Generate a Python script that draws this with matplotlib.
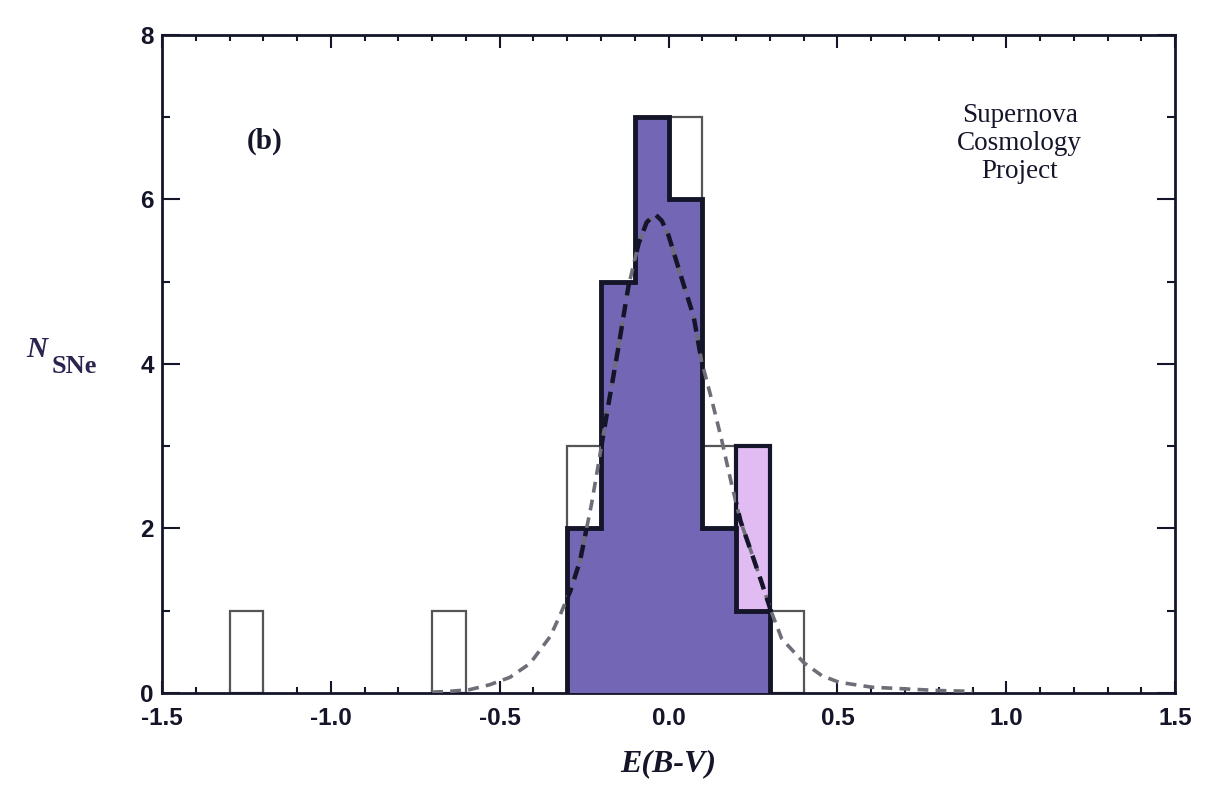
import numpy as np
import matplotlib
matplotlib.use("Agg")
import matplotlib.pyplot as plt
from matplotlib.ticker import MultipleLocator

# ---------------- data ----------------
bin_width = 0.1
open_left = [-1.3, -0.7, -0.3, -0.2, -0.1, 0.0, 0.1, 0.2, 0.3]
open_counts = [1, 1, 3, 5, 7, 7, 3, 3, 1]

fill_edges = [-0.3, -0.2, -0.1, 0.0, 0.1, 0.2, 0.3]
fill_counts = [2, 5, 7, 6, 2, 1]

light_left = [0.2]
light_counts = [3]

# dashed model curve
curve_x = [-0.70, -0.65, -0.59, -0.53, -0.47, -0.41, -0.35, -0.32, -0.29, -0.262,
           -0.228, -0.203, -0.178, -0.149, -0.119, -0.089, -0.065, -0.04, -0.02,
           0.0, 0.038, 0.074, 0.098, 0.128, 0.157, 0.187, 0.213, 0.246, 0.275,
           0.303, 0.335, 0.40, 0.454, 0.505, 0.603, 0.70, 0.80, 0.90]
curve_y = [0.01, 0.02, 0.04, 0.10, 0.19, 0.36, 0.69, 0.96, 1.25, 1.61,
           2.30, 2.90, 3.51, 4.19, 4.94, 5.46, 5.72, 5.82, 5.74,
           5.56, 5.05, 4.58, 4.03, 3.56, 3.08, 2.53, 2.09, 1.70, 1.35,
           1.00, 0.66, 0.37, 0.21, 0.13, 0.07, 0.05, 0.03, 0.02]

# ---------------- figure ----------------
fig = plt.figure(figsize=(12.09, 7.92), dpi=100)
ax = fig.add_axes([0.134, 0.125, 0.838, 0.831])

dark_fill = "#7366b5"
light_fill = "#e0bcf2"
ink = "#15152a"

# open histogram
ax.bar(open_left, open_counts, width=bin_width, align="edge",
       facecolor="white", edgecolor="#555555", linewidth=1.6, zorder=2)

# light purple bar
light = ax.bar(light_left, light_counts, width=bin_width, align="edge",
               facecolor=light_fill, edgecolor=ink, linewidth=3.0, zorder=3)

# dark filled histogram
step = ax.stairs(fill_counts, fill_edges, fill=True, baseline=0,
                 facecolor=dark_fill, edgecolor=ink, linewidth=3.5, zorder=4)

# dashed curve: gray outside, dark inside the filled areas
ax.plot(curve_x, curve_y, linestyle=(0, (3, 2)), color="#6e6e78",
        linewidth=2.6, zorder=5)
l1, = ax.plot(curve_x, curve_y, linestyle=(0, (3, 2)), color=ink,
              linewidth=3.2, zorder=6)
l1.set_clip_path(step)
l2, = ax.plot(curve_x, curve_y, linestyle=(0, (3, 2)), color=ink,
              linewidth=3.2, zorder=6)
l2.set_clip_path(light.patches[0])

ax.set_xlim(-1.5, 1.5)
ax.set_ylim(0, 8)

ax.xaxis.set_major_locator(MultipleLocator(0.5))
ax.xaxis.set_minor_locator(MultipleLocator(0.1))
ax.yaxis.set_major_locator(MultipleLocator(2))
ax.yaxis.set_minor_locator(MultipleLocator(1))

for s in ax.spines.values():
    s.set_linewidth(2.0)
    s.set_color(ink)

ax.tick_params(axis="both", which="both", direction="in", top=True,
               right=True, color=ink, width=1.5)
ax.tick_params(axis="x", which="major", length=9, pad=10)
ax.tick_params(axis="x", which="minor", length=4)
ax.tick_params(axis="y", which="major", length=13, pad=6)
ax.tick_params(axis="y", which="minor", length=6)

ax.set_xticks([-1.5, -1.0, -0.5, 0.0, 0.5, 1.0, 1.5])
ax.set_xticklabels(["-1.5", "-1.0", "-0.5", "0.0", "0.5", "1.0", "1.5"])
ax.set_yticks([0, 2, 4, 6, 8])
ax.set_yticklabels(["0", "2", "4", "6", "8"])
for lab in ax.get_xticklabels() + ax.get_yticklabels():
    lab.set_fontfamily("Liberation Sans")
    lab.set_fontweight("bold")
    lab.set_fontsize(17.5)
    lab.set_color(ink)

ax.set_xlabel("E(B-V)", fontfamily="Liberation Serif", fontstyle="italic",
              fontweight="bold", fontsize=23, color=ink, labelpad=14)

# y label N_SNe drawn horizontally
fig.text(0.022, 0.549, "N", fontfamily="Liberation Serif", fontstyle="italic",
         fontweight="bold", fontsize=21, color="#2a2450", va="baseline")
fig.text(0.043, 0.529, "SNe", fontfamily="Liberation Serif",
         fontweight="bold", fontsize=19, color="#2a2450", va="baseline")

ax.text(-1.195, 6.7, "(b)", fontfamily="Liberation Serif", fontweight="bold",
        fontsize=21, color=ink, ha="center", va="center")
ax.text(1.04, 6.68, "Supernova\nCosmology\nProject", fontfamily="Liberation Serif",
        fontsize=19.5, color=ink, ha="center", va="center", linespacing=1.15)

fig.savefig("out.png", dpi=100)
